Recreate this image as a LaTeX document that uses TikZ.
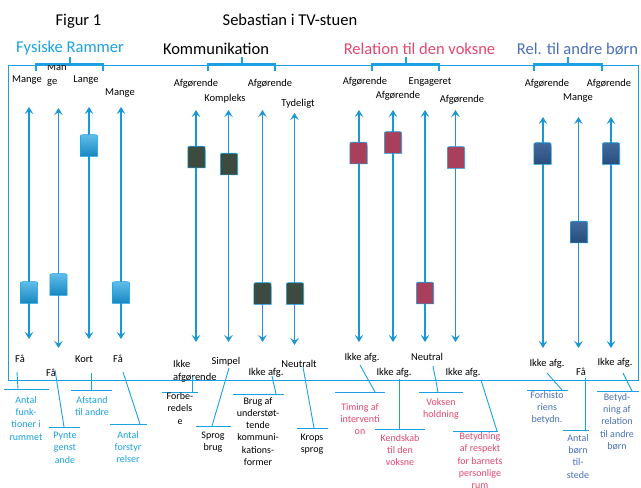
\documentclass[tikz,border=0pt]{standalone}
\usepackage{fontspec}
\setmainfont{Carlito}
\usetikzlibrary{arrows.meta}
\definecolor{cy}{HTML}{1BA1E2}
\definecolor{cyline}{HTML}{1A96D4}
\definecolor{pinkred}{HTML}{E4486E}
\definecolor{steel}{HTML}{4A70B8}
\definecolor{knobg}{HTML}{3C4A3F}
\definecolor{knobr}{HTML}{A8405C}
\definecolor{knobb}{HTML}{2F5A92}
\newcommand\knobat[3]{\path[#3,shift={(#1,#2)}] (-8.7,10.8) -- (-8.7,-6.8) .. controls (-8.7,-10.8) .. (-4.7,-10.8) -- (4.7,-10.8) .. controls (8.7,-10.8) .. (8.7,-6.8) -- (8.7,10.8) -- cycle;}
\newcommand\catlbl[9]{%
  \coordinate (#1ta) at (#3,#5); \coordinate (#1tb) at (#4,#5);
  \coordinate (#1ls) at (#6); \coordinate (#1le) at (#7);
  \draw[tee] (#1ta) -- (#1tb);
  \draw[tee] (#1ls) -- (#1le);
  \node[cat,text=#2] (#1) at (#8) {#9};}
\begin{document}
\begin{tikzpicture}[x=1pt,y=-1pt,
  title/.style={font=\fontsize{16.5}{19}\selectfont, inner sep=0, anchor=base},
  val/.style={font=\fontsize{10.5}{13}\selectfont, inner sep=0, anchor=base},
  cat/.style={font=\fontsize{10}{12.3}\selectfont, inner sep=0, align=center, anchor=north},
  slider/.style={draw=cyline, line width=1.7pt, {Stealth[length=7pt,width=8.5pt,inset=2.8pt]}-{Stealth[length=7pt,width=8.5pt,inset=2.8pt]}},
  bracket/.style={draw=cy, line width=1.6pt},
  tee/.style={draw=cy, line width=0.9pt},
  frame/.style={draw=cy, line width=0.8pt},
  knobA/.style={draw=cy, line width=0.5pt, top color=cy!70!white, bottom color=cyline!90!black},
  knobG/.style={draw=cy, line width=0.6pt, fill=knobg},
  knobR/.style={draw=cy, line width=0.6pt, fill=knobr},
  knobB/.style={draw=cy, line width=0.6pt, top color=knobb!90!white, bottom color=knobb!85!black},
]
\useasboundingbox (0,0) rectangle (641,488);

% titles
\node[title] (fig) at (78.5,25) {Figur 1};
\node[title] (seb) at (290,25) {Sebastian i TV-stuen};
\node[title,text=cy] (t1) at (70,52) {Fysiske Rammer};
\node[title] (t2) at (216,54) {Kommunikation};
\node[title,text=pinkred] (t3) at (419.5,54) {Relation til den voksne};
\node[title,text=steel] (t4) at (577.5,54) {Rel. til andre børn};

% frame
\draw[frame] (8,65) rectangle (638,380.5);

% top labels
\node[val] (a1u) at (27,82.5) {Mange};
\node[font=\fontsize{10.5}{14}\selectfont, inner sep=0, align=left, anchor=north west] (a2u) at (47,63.8) {Man\\ge};
\node[val] (a3u) at (86,82.5) {Lange};
\node[val] (a4u) at (120,95.5) {Mange};
\node[val] (b1u) at (196,86.5) {Afgørende};
\node[val] (b2u) at (225,101.5) {Kompleks};
\node[val] (b3u) at (270,86.5) {Afgørende};
\node[val] (b4u) at (298,106.5) {Tydeligt};
\node[val] (c1u) at (365,84.5) {Afgørende};
\node[val] (c2u) at (398,98.5) {Afgørende};
\node[val] (c3u) at (430,84.5) {Engageret};
\node[val] (c4u) at (462,102.5) {Afgørende};
\node[val] (d1u) at (547,86.5) {Afgørende};
\node[val] (d2u) at (578,100.5) {Mange};
\node[val] (d3u) at (609,86.5) {Afgørende};

% brackets
\foreach \xa/\xb/\xc in {36/103/70, 208/275/242, 372/439/406, 534/602/568}{
  \draw[bracket] (\xa,70.5) -- (\xa,64) -- (\xb,64) -- (\xb,70.5);
  \draw[bracket] (\xc,64) -- (\xc,57);
}

% bottom labels
\node[val] (a1d) at (20,362.5) {Få};
\node[val] (a2d) at (51,376.5) {Få};
\node[val] (a3d) at (84,362.5) {Kort};
\node[val] (a4d) at (118,362.5) {Få};
\node[font=\fontsize{10.5}{13}\selectfont, inner sep=0, align=left, anchor=north west] (b1d) at (173,360.5) {Ikke\\afgørende};
\node[val] (b2d) at (226,364.5) {Simpel};
\node[val] (b3d) at (266,375.5) {Ikke afg.};
\node[val] (b4d) at (299,367.5) {Neutralt};
\node[val] (c1d) at (362,360.5) {Ikke afg.};
\node[val] (c2d) at (394,375.5) {Ikke afg.};
\node[val] (c3d) at (427,360.5) {Neutral};
\node[val] (c4d) at (463,375.5) {Ikke afg.};
\node[val] (d1d) at (547,366.5) {Ikke afg.};
\node[val] (d2d) at (581,375.5) {Få};
\node[val] (d3d) at (615,365.5) {Ikke afg.};

% sliders
\foreach \n/\x/\t/\b in {a1/29/107/339, a2/58.5/108/348, a3/89/107/339, a4/121/107/339,
  b1/196/110/342, b2/228.5/110/342, b3/262.5/110/342, b4/294.5/113/345,
  c1/359/110/342, c2/393/110/342, c3/425/110/342, c4/455.5/110/342,
  d1/543/117/348, d2/578.5/117/348, d3/611/117/348}{
  \coordinate (\n t) at (\x,\t);
  \coordinate (\n b) at (\x,\b);
  \draw[slider] (\n t) -- (\n b);
}

% knobs
\knobat{29}{292.5}{knobA}
\knobat{58.5}{284.5}{knobA}
\knobat{89}{145.5}{knobA}
\knobat{121}{292.5}{knobA}
\knobat{196.5}{157}{knobG}
\knobat{229}{164}{knobG}
\knobat{262.5}{293.5}{knobG}
\knobat{295}{293.5}{knobG}
\knobat{358.5}{153}{knobR}
\knobat{393}{142.5}{knobR}
\knobat{425}{293}{knobR}
\knobat{456}{157.5}{knobR}
\knobat{542.5}{153.5}{knobB}
\knobat{579}{232}{knobB}
\knobat{611}{153.5}{knobB}

% category labels
\catlbl{ka1}{cy}{4}{49}{389}{17,372}{18,389}{26,396}{Antal\\funk-\\tioner i\\rummet}
\catlbl{ka2}{cy}{49}{80}{427}{55,370}{64,427}{65,432}{Pynte\\genst\\ande}
\catlbl{ka3}{cy}{71}{112}{390}{91,373}{91,390}{92,396}{Afstand\\til andre}
\catlbl{ka4}{cy}{110}{147}{424}{123,372}{140,424}{128,431}{Antal\\forstyr\\relser}
\catlbl{kb1}{black}{162}{198}{392}{192,377}{192,392}{180,392.5}{Forbe-\\redels\\e}
\catlbl{kb2}{black}{196}{231}{426}{229,368}{212,426}{213,432}{Sprog\\brug}
\catlbl{kb3}{black}{233}{284}{394}{272,376}{276,394}{258,397}{Brug af\\understøt-\\tende\\kommuni-\\kations-\\former}
\catlbl{kb4}{black}{297}{328}{428}{303,367}{314,428}{312,434}{Krops\\sprog}
\catlbl{kc1}{pinkred}{335}{385}{392}{360,365}{375,392}{360,403}{Timing af\\interventi\\on}
\catlbl{kc2}{pinkred}{375}{425}{429}{399,379}{399,429}{400,434}{Kendskab\\til den\\voksne}
\catlbl{kc3}{pinkred}{419}{463}{392}{433,366}{438,392}{441,398}{Voksen\\holdning}
\catlbl{kc4}{pinkred}{453}{498}{431}{481,380}{497,431}{480,432.5}{\fontsize{10}{11.6}\selectfont Betydning\\af respekt\\for barnets\\personlige\\rum}
\catlbl{kd1}{steel}{527}{568}{390}{547,373}{562,390}{547,391}{Forhisto\\riens\\betydn.}
\catlbl{kd2}{steel}{563}{589}{430}{585,378}{585,430}{578,434}{Antal\\børn\\til-\\stede}
\catlbl{kd3}{steel}{597}{639}{391}{623,373}{632,391}{617,393}{Betyd-\\ning af\\relation\\til andre\\børn}
\end{tikzpicture}
\end{document}
